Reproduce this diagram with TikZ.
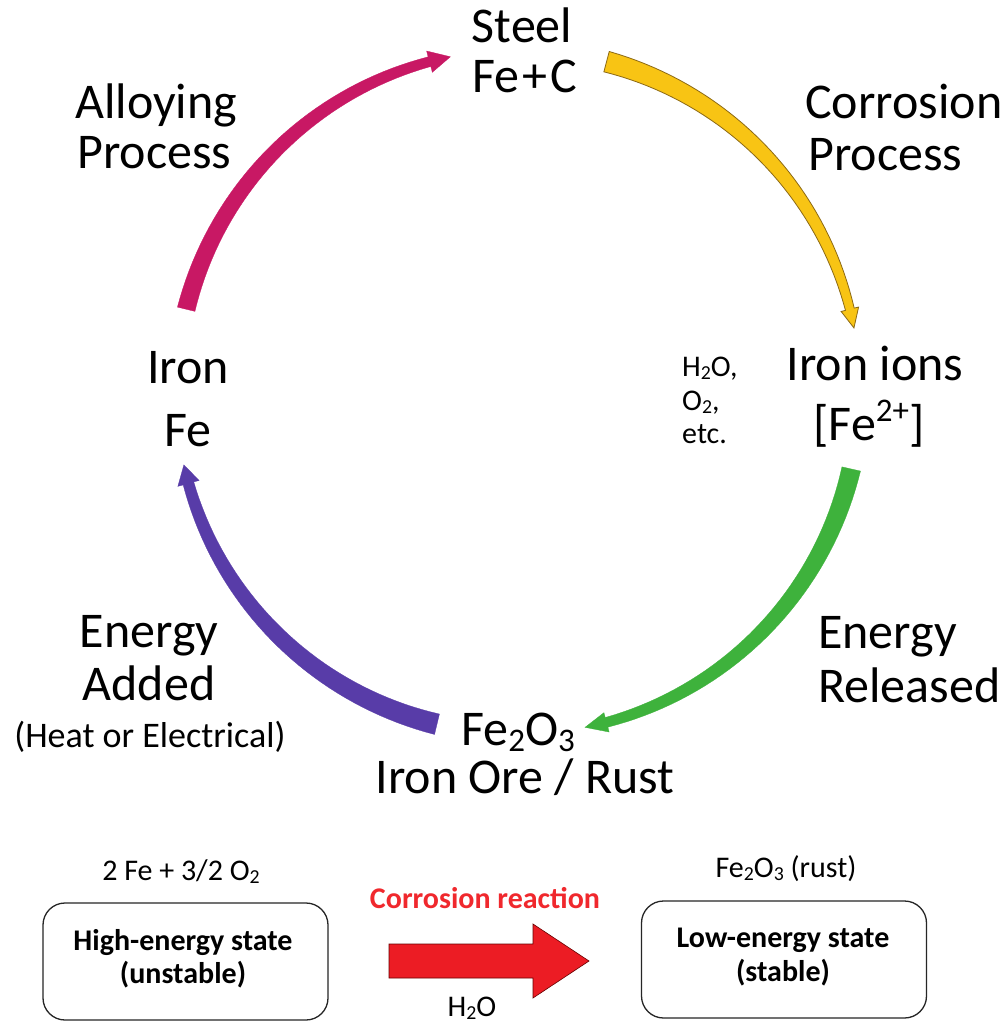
\documentclass[tikz,border=0pt]{standalone}
\usepackage{fontspec}
\setmainfont{Carlito}
\definecolor{cMag}{RGB}{200,24,100}
\definecolor{cYel}{RGB}{248,196,20}
\definecolor{cYelEdge}{RGB}{140,105,20}
\definecolor{cGrn}{RGB}{62,178,60}
\definecolor{cPur}{RGB}{88,60,168}
\definecolor{cRed}{RGB}{236,28,36}
\definecolor{cRedT}{RGB}{240,40,45}
\newcommand{\chsub}[1]{\raisebox{-0.12em}{\scalebox{0.66}{#1}}}
\newcommand{\chsup}[1]{\raisebox{0.38em}{\scalebox{0.66}{#1}}}
% colour, start angle, shaft end angle, tip angle, start width, end width, head width
\newcommand{\ringarrow}[8][]{%
\filldraw[#2,#1] plot[domain=0:1,samples=40,variable=\t] ({518+(342+(#6+(#7-#6)*\t)/2)*cos(#3+(#4-#3)*\t)},{392-(342+(#6+(#7-#6)*\t)/2)*sin(#3+(#4-#3)*\t)})
 -- ({518+(342+#8/2)*cos(#4)},{392-(342+#8/2)*sin(#4)})
 -- ({518+342*cos(#5)},{392-342*sin(#5)})
 -- ({518+(342-#8/2)*cos(#4)},{392-(342-#8/2)*sin(#4)})
 -- plot[domain=1:0,samples=40,variable=\t] ({518+(342-(#6+(#7-#6)*\t)/2)*cos(#3+(#4-#3)*\t)},{392-(342-(#6+(#7-#6)*\t)/2)*sin(#3+(#4-#3)*\t)})
 -- cycle;}
\begin{document}
\begin{tikzpicture}[x=1pt,y=-1pt,
  big/.style={font=\fontsize{50}{55}\selectfont, inner sep=0pt},
  mid/.style={font=\fontsize{36}{40}\selectfont, inner sep=0pt},
  sml/.style={font=\fontsize{30}{34}\selectfont, inner sep=0pt},
  btxt/.style={font=\fontsize{30}{34}\selectfont, inner sep=0pt},
  bbold/.style={font=\bfseries\fontsize{30}{34}\selectfont, inner sep=0pt},
  statebox/.style={draw=black!85, line width=1.3pt, rounded corners=22pt,
    minimum width=285pt, minimum height=117pt, inner sep=0pt}]
\useasboundingbox (0,0) rectangle (1002,1024);
\clip (0,0) rectangle (1002,1024);
\fill[white] (0,0) rectangle (1002,1024);

% cycle labels
\node[big, anchor=base] (steel) at (522,43) {Steel};
\node[big, anchor=base] (fec) at (525,93) {Fe\kern3pt+\kern3pt C};
\node[big, anchor=base west] (alloy1) at (75,119) {Alloying};
\node[big, anchor=base west] (alloy2) at (77,169) {Process};
\node[big, anchor=base west] (corr1) at (805,119) {Corrosion};
\node[big, anchor=base west] (corr2) at (808,171) {Process};
\node[big, anchor=base] (iron1) at (188,383) {Iron};
\node[big, anchor=base] (iron2) at (188,446) {Fe};
\node[big, anchor=base] (ions1) at (875,380) {Iron ions};
\node[big, anchor=base] (ions2) at (869,440) {[Fe\chsup{2+}]};
\node[sml, anchor=base west] (h2o) at (682,376) {H\chsub{2}O,};
\node[sml, anchor=base west] (o2) at (682,410) {O\chsub{2},};
\node[sml, anchor=base west] (etc) at (682,443) {etc.};
\node[big, anchor=base] (en1) at (149,647) {Energy};
\node[big, anchor=base] (en2) at (149,700) {Added};
\node[mid, anchor=base] (heat) at (150,747) {(Heat or Electrical)};
\node[big, anchor=base west] (rel1) at (818,648) {Energy};
\node[big, anchor=base west] (rel2) at (818,702) {Released};
\node[big, anchor=base] (ore1) at (518,745) {Fe\chsub{2}O\chsub{3}};
\node[big, anchor=base] (ore2) at (525,793) {Iron Ore / Rust};

% cycle arrows
\ringarrow[line width=0.3pt]{cMag}{166}{105}{101.4}{18}{10}{22}
\ringarrow[draw=cYelEdge, line width=0.8pt]{cYel}{75}{14}{10.8}{21}{9}{18}
\ringarrow[line width=0.3pt]{cGrn}{-13}{-75}{-78.7}{19}{10}{20}
\ringarrow[line width=0.3pt]{cPur}{-103.7}{-164.5}{-167.7}{21}{11}{22}

% bottom part
\node[btxt, anchor=base] (eq1) at (181,880) {2 Fe + 3/2 O\chsub{2}};
\node[btxt, anchor=base] (eq2) at (786,877) {Fe\chsub{2}O\chsub{3} (rust)};
\node[statebox] (high) at (185.5,961.5) {};
\node[statebox] (low) at (784,959.5) {};
\node[bbold, anchor=base] (hi1) at (183,950) {High-energy state};
\node[bbold, anchor=base] (hi2) at (183,983) {(unstable)};
\node[bbold, anchor=base] (lo1) at (783,947) {Low-energy state};
\node[bbold, anchor=base] (lo2) at (783,981) {(stable)};
\fill[cRed, draw=black!60!red, line width=0.6pt] (389,944) -- (533,944) -- (533,924) -- (589,961) -- (533,998) -- (533,978) -- (389,978) -- cycle;
\node[bbold, text=cRedT, anchor=base] (crx) at (485,908) {Corrosion reaction};
\node[btxt, anchor=base] (h2ob) at (472,1016) {H\chsub{2}O};
\end{tikzpicture}
\end{document}
